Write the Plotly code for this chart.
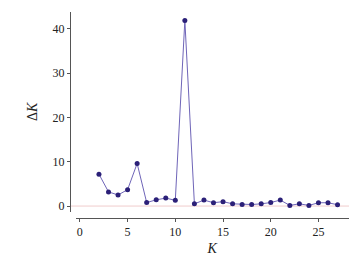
import plotly.graph_objects as go

K = list(range(2, 28))
deltaK = [7.2, 3.2, 2.5, 3.7, 9.6, 0.8, 1.4, 1.8, 1.3, 41.9, 0.5, 1.35, 0.75, 1.0,
          0.5, 0.35, 0.35, 0.5, 0.8, 1.35, 0.15, 0.5, 0.15, 0.75, 0.75, 0.3]
x_ticks = [0, 5, 10, 15, 20, 25]
y_ticks = [0, 10, 20, 30, 40]

serif = "Liberation Serif, Times New Roman, DejaVu Serif, serif"
font = dict(family=serif, size=12, color="#222")

fig = go.Figure()
fig.add_trace(go.Scatter(
    x=K, y=deltaK, mode="lines+markers",
    line=dict(color="#6f65b8", width=1),
    marker=dict(color="#2b2078", size=5),
    showlegend=False, hoverinfo="skip",
))
# zero reference line
fig.add_shape(type="line", xref="paper", yref="y", x0=0.0, x1=1.0, y0=0, y1=0,
              line=dict(color="#f0cccc", width=1), layer="below")

fig.update_layout(
    width=361, height=256,
    margin=dict(l=70, r=12, t=12, b=38, autoexpand=False),
    paper_bgcolor="white", plot_bgcolor="white",
    font=font,
    xaxis=dict(range=[-0.45, 28.2], domain=[0.02, 1], anchor="free", position=0,
               automargin=False,
               tickvals=x_ticks, showgrid=False, zeroline=False,
               tickfont=dict(family=serif, size=12, color="#222"),
               showline=True, linecolor="#555", linewidth=1,
               ticks="outside", ticklen=3, tickcolor="#555",
               title=dict(text="<i>K</i>", standoff=6, font=dict(family=serif, size=14))),
    yaxis=dict(range=[-1.3, 43.8], domain=[0.03, 1], anchor="free", position=0,
               automargin=False,
               tickvals=y_ticks, showgrid=False, zeroline=False,
               tickfont=dict(family=serif, size=12, color="#222"),
               showline=True, linecolor="#555", linewidth=1,
               ticks="outside", ticklen=3, tickcolor="#555",
               title=dict(text="Δ<i>K</i>", standoff=10, font=dict(family=serif, size=14))),
)
fig.write_html("out.html", config={"displayModeBar": False},
               post_script="document.body.style.margin='0';")
